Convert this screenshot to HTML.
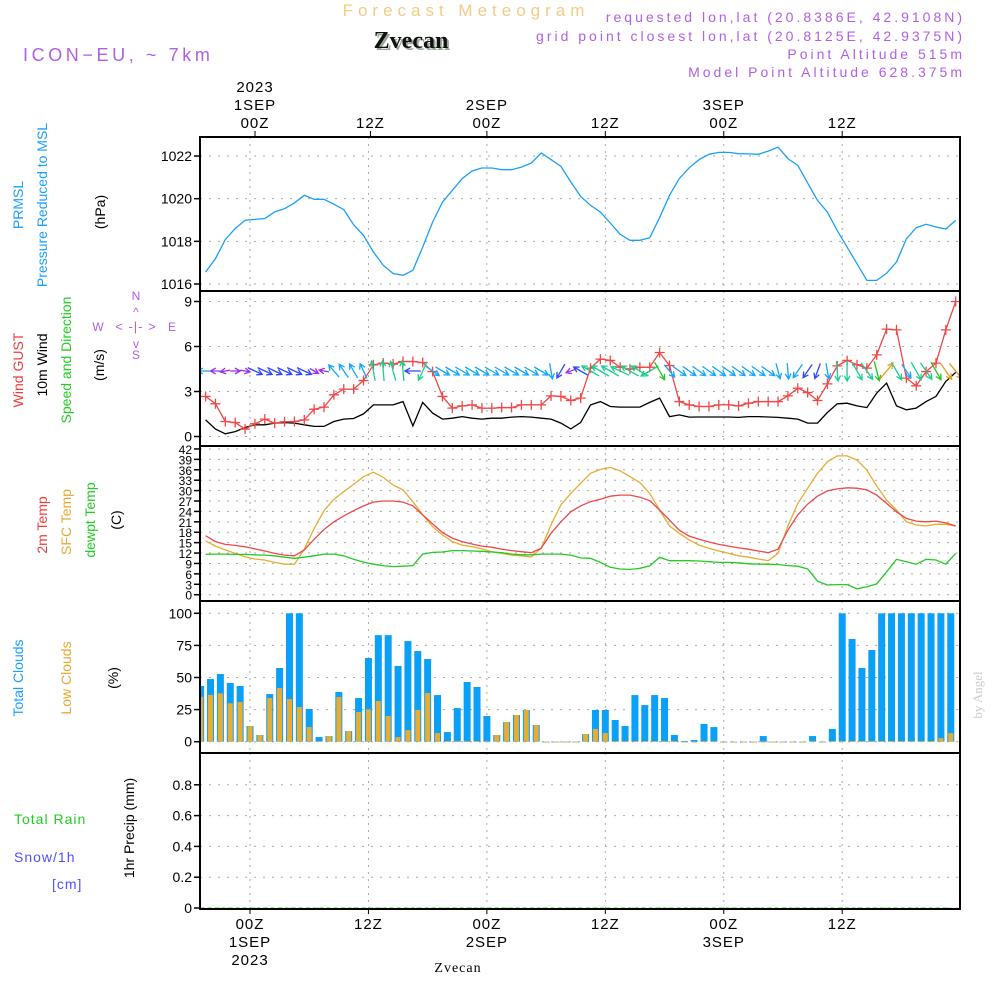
<!DOCTYPE html>
<html><head><meta charset="utf-8"><style>
html,body{margin:0;padding:0;background:#fff;}
svg text{font-family:"Liberation Sans",sans-serif;}
</style></head><body>
<svg id="chart" xmlns="http://www.w3.org/2000/svg" width="1000" height="1000" viewBox="0 0 1000 1000">
<rect x="0" y="0" width="1000" height="1000" fill="#fff"/>
<text x="466" y="16" text-anchor="middle" font-size="17" fill="#f3cc88" letter-spacing="5">Forecast Meteogram</text>
<text x="411" y="48" text-anchor="middle" font-size="24" font-weight="bold" fill="#9aa89a" style="font-family:'Liberation Serif',serif" transform="translate(2,2)">Zvecan</text>
<text x="411" y="48" text-anchor="middle" font-size="24" font-weight="bold" fill="#111" style="font-family:'Liberation Serif',serif">Zvecan</text>
<text x="23" y="61" font-size="18" fill="#b060e8" letter-spacing="3.6">ICON−EU, ~ 7km</text>
<g font-size="14" fill="#b060e8" text-anchor="end" letter-spacing="3">
<text x="965" y="22">requested lon,lat (20.8386E, 42.9108N)</text>
<text x="965" y="41">grid point closest lon,lat (20.8125E, 42.9375N)</text>
<text x="965" y="59">Point Altitude 515m</text>
<text x="965" y="77">Model Point Altitude 628.375m</text>
</g>
<text transform="translate(982,695) rotate(-90)" text-anchor="middle" font-size="13" fill="#ccc" style="font-family:'Liberation Serif',serif">by Angel</text>
<g id="grid"></g>
<g id="plots"></g>
<g id="frames"></g>
<g id="axes"></g>
<g id="labels" font-size="14">
<text transform="translate(23,205) rotate(-90)" text-anchor="middle" fill="#1aa0ff">PRMSL</text>
<text transform="translate(47,205) rotate(-90)" text-anchor="middle" fill="#1aa0ff">Pressure Reduced to MSL</text>
<text transform="translate(105,212) rotate(-90)" text-anchor="middle" fill="#000">(hPa)</text>
<text transform="translate(23,370) rotate(-90)" text-anchor="middle" fill="#f03c3c">Wind GUST</text>
<text transform="translate(47,365) rotate(-90)" text-anchor="middle" fill="#000">10m Wind</text>
<text transform="translate(71,360) rotate(-90)" text-anchor="middle" fill="#22cc22">Speed and Direction</text>
<text transform="translate(104,365) rotate(-90)" text-anchor="middle" fill="#000">(m/s)</text>
<g fill="#b060e8" font-size="12" text-anchor="middle">
<text x="98" y="331">W</text><text x="172" y="331">E</text><text x="136" y="300">N</text><text x="136" y="359">S</text>
<text x="136" y="331" font-size="13" letter-spacing="1">&lt; -|- &gt;</text>
<text x="136" y="316">^</text><text x="136" y="348">v</text>
</g>
<text transform="translate(47,525) rotate(-90)" text-anchor="middle" fill="#f03c3c">2m Temp</text>
<text transform="translate(71,522) rotate(-90)" text-anchor="middle" fill="#e8a830">SFC Temp</text>
<text transform="translate(95,520) rotate(-90)" text-anchor="middle" fill="#22cc22">dewpt Temp</text>
<text transform="translate(121,520) rotate(-90)" text-anchor="middle" fill="#000">(C)</text>
<text transform="translate(23,678) rotate(-90)" text-anchor="middle" fill="#1aa0ff">Total Clouds</text>
<text transform="translate(71,678) rotate(-90)" text-anchor="middle" fill="#e8a830">Low Clouds</text>
<text transform="translate(118,678) rotate(-90)" text-anchor="middle" fill="#000">(%)</text>
<text transform="translate(134,828) rotate(-90)" text-anchor="middle" fill="#000">1hr Precip (mm)</text>
<text x="14" y="824" fill="#22cc22" letter-spacing="1">Total    Rain</text>
<text x="14" y="862" fill="#5050ff" letter-spacing="1">Snow/1h</text>
<text x="52" y="889" fill="#5050ff" letter-spacing="1">[cm]</text>
</g>
<text x="458" y="972" text-anchor="middle" font-size="14" style="font-family:'Liberation Serif',serif" letter-spacing="1">Zvecan</text>
</svg>
<script>
const pressure=[1016.56,1017.19,1018.08,1018.6,1018.99,1019.03,1019.07,1019.38,1019.53,1019.8,1020.16,1019.97,1019.97,1019.74,1019.49,1018.78,1018.28,1017.5,1016.88,1016.49,1016.41,1016.64,1017.73,1018.9,1019.84,1020.39,1020.94,1021.3,1021.44,1021.44,1021.36,1021.36,1021.48,1021.67,1022.14,1021.83,1021.52,1020.78,1020.11,1019.69,1019.37,1018.86,1018.33,1018.05,1018.05,1018.17,1019.11,1020.16,1020.94,1021.45,1021.83,1022.08,1022.17,1022.17,1022.11,1022.1,1022.08,1022.23,1022.42,1021.88,1021.56,1020.73,1019.92,1019.37,1018.5,1017.73,1016.95,1016.17,1016.17,1016.5,1017.03,1018.12,1018.64,1018.8,1018.67,1018.58,1018.98];
const windGust=[2.67,2.18,1.0,0.93,0.49,0.85,1.16,0.89,0.98,1.0,1.11,1.82,1.96,2.78,3.16,3.16,3.73,4.78,4.89,4.83,5.0,5.0,4.93,4.33,2.67,1.89,2.04,2.11,1.89,1.89,1.93,1.93,2.11,2.11,2.11,2.71,2.67,2.4,2.56,4.56,5.16,5.07,4.62,4.49,4.62,4.62,5.6,4.73,2.33,2.11,2.0,2.0,2.11,2.11,2.04,2.22,2.33,2.33,2.33,2.71,3.22,2.93,2.4,3.51,4.71,5.07,4.78,4.56,5.44,7.16,7.11,3.89,3.38,4.33,4.89,7.11,9.0];
const windSpeed=[1.11,0.49,0.18,0.33,0.6,0.78,0.78,0.89,0.93,0.89,0.78,0.67,0.67,1.0,1.16,1.2,1.51,2.11,2.11,2.11,2.33,0.71,2.27,1.56,1.16,1.22,1.33,1.22,1.16,1.22,1.22,1.29,1.33,1.29,1.22,1.16,0.89,0.51,0.93,2.11,2.33,2.0,1.96,1.96,1.96,2.27,2.56,1.33,1.44,1.29,1.3,1.3,1.3,1.3,1.27,1.33,1.33,1.3,1.27,1.22,1.16,0.89,0.89,1.6,2.18,2.22,2.04,1.93,2.89,3.56,2.04,1.78,1.89,2.33,2.67,3.67,4.27];
const windDirTo=[270,270,260,90,100,115,115,115,115,115,115,120,280,320,325,330,335,350,355,345,355,270,205,125,120,120,120,120,120,120,120,120,120,120,120,170,210,250,300,300,300,300,295,300,300,240,150,140,125,125,125,125,125,125,125,125,125,125,165,175,215,215,200,170,175,180,150,145,165,40,150,145,150,145,150,145,140];
const temp2m=[17.0,15.3,14.5,14.2,13.8,13.2,12.6,11.9,11.4,11.2,12.9,16.0,18.8,21.0,22.7,24.2,25.6,26.7,27.0,27.0,26.7,25.6,23.0,20.4,17.9,16.3,15.3,14.6,14.0,13.7,13.1,12.7,12.4,12.1,13.4,17.7,21.0,23.9,25.6,26.8,27.5,28.4,28.7,28.7,28.1,27.1,24.4,21.5,18.6,16.9,16.0,15.2,14.5,14.0,13.5,13.1,12.6,12.1,13.1,18.6,23.0,26.1,28.4,29.9,30.5,30.8,30.7,30.2,28.7,26.3,23.9,22.0,21.2,21.0,21.2,20.7,19.8];
const tempSfc=[15.5,14.0,12.9,11.9,10.9,10.3,10.0,9.3,8.8,8.8,13.1,19.1,24.2,27.5,29.7,31.8,34.0,35.3,33.8,31.6,30.2,26.8,23.0,19.6,17.2,15.3,14.3,13.8,13.2,12.4,11.9,11.4,11.2,10.9,13.4,20.1,25.9,29.2,32.1,35.0,36.1,36.7,35.7,34.0,32.3,29.2,24.4,19.8,17.7,15.8,14.3,13.4,12.6,11.9,11.2,10.8,10.3,9.8,11.9,19.8,26.3,30.7,35.0,38.3,40.0,40.0,38.8,35.9,31.3,27.3,24.4,21.0,20.1,19.8,20.3,20.3,19.8];
const dewPoint=[11.6,11.7,11.7,11.6,11.6,11.5,11.4,11.2,10.8,10.5,10.8,11.2,11.7,11.7,11.2,10.2,9.4,8.8,8.4,8.1,8.2,8.4,11.7,12.2,12.3,12.7,12.7,12.6,12.5,12.3,12.1,11.7,11.5,11.5,11.7,11.7,11.7,11.4,10.6,10.5,9.3,7.9,7.4,7.3,7.6,8.3,10.8,9.8,9.8,9.8,9.7,9.5,9.3,9.3,9.2,8.9,8.8,8.8,8.7,8.4,8.2,7.4,3.9,2.8,2.9,2.9,1.7,2.3,3.1,6.6,10.2,9.5,8.8,10.2,10.0,8.8,11.9];
const totalClouds=[43.4,48.8,52.7,45.7,43.4,12.2,5.2,37.1,57.4,100,100,25.5,3.6,4.4,38.7,8.3,34,65.2,83,83,59,78.4,70.6,64.4,36.3,7.5,26.2,46.5,42.6,20,5.2,15.3,20.8,24.7,13,0,0,0,0,5.9,24.7,24.7,16.9,12.2,36.3,28.5,36.3,34,5.2,0.5,1.3,13.8,11.4,0,0,0,0,4.4,0,0,0,0,4.4,0,9.9,100,80,57.4,71.4,100,100,100,100,100,100,100,100];
const lowClouds=[35,36.4,37.7,29.9,30.9,12.2,5.2,34,41.8,33.2,27,11.4,0.5,4.4,34.8,8.3,23.1,25.2,31.7,20,3.6,9,24.7,37.9,6.7,0.5,0.5,0.5,0.5,0.5,5.2,15.3,20.8,24.7,13,0,0,0,0,5.9,9.9,6.7,0.5,0.5,0.5,0.5,0.5,0.5,0.5,0,0,0.5,0.5,0,0,0,0,0,0,0,0,0,0.5,0,0.5,0.5,0.5,0.5,0.5,0.5,0.5,0.5,0.5,0.5,0.5,2.8,6.7];
const precip=new Array(77).fill(0);
const pressTicks=[1016,1018,1020,1022];
const windTicks=[0,3,6,9];
const tempTicks=[0,3,6,9,12,15,18,21,24,27,30,33,36,39,42];
const cloudTicks=[0,25,50,75,100];
const precipTicks=[0,0.2,0.4,0.6,0.8];
const timeTicks=[0,12,24,36,48,60];
const topTimeLabels=[["2023","1SEP","00Z"],["","","12Z"],["","2SEP","00Z"],["","","12Z"],["","3SEP","00Z"],["","","12Z"]];
const botTimeLabels=[["00Z","1SEP","2023"],["12Z","",""],["00Z","2SEP",""],["12Z","",""],["00Z","3SEP",""],["12Z","",""]];

const NS="http://www.w3.org/2000/svg";
const L=200,R=960;
const xT=t=>250+9.87*t;
const lineT=k=>-4.5+k;
const barT=k=>-5+k;
const yP=v=>284-(v-1016)*21.33;
const yW=v=>436.5-v*15;
const yTe=v=>594.7-v*3.47;
const yC=v=>741.7-v*1.284;
const yR=v=>908-v*154;
const panels=[[137,291],[291,446],[446,601],[601,753],[753,909]];
function el(tag,attrs,parent){const e=document.createElementNS(NS,tag);for(const k in attrs)e.setAttribute(k,attrs[k]);parent.appendChild(e);return e;}
const grid=document.getElementById('grid'),plots=document.getElementById('plots'),frames=document.getElementById('frames'),axes=document.getElementById('axes');

panels.forEach(p=>{timeTicks.forEach(t=>{const g=el('line',{x1:xT(t),x2:xT(t),y1:p[0],y2:p[1],stroke:'#aaa','stroke-dasharray':'2,5'},grid);

});});
function hAxis(ticks,yf,fmt,fs,name){ticks.forEach(v=>{const y=yf(v);
const g=el('line',{x1:L,x2:R,y1:y,y2:y,stroke:'#aaa','stroke-dasharray':'2,7'},grid);


el('line',{x1:L-6,x2:L,y1:y,y2:y,stroke:'#000','stroke-width':1.5},axes);
const t=el('text',{x:L-8,y:y+5,'text-anchor':'end','font-size':fs},axes);


t.textContent=fmt(v);});}
hAxis(pressTicks,yP,v=>v,14,'pressure');
hAxis(windTicks,yW,v=>v,14,'wind');
hAxis(tempTicks,yTe,v=>v,12,'temp');
hAxis(cloudTicks,yC,v=>v,14,'cloud');
hAxis(precipTicks,yR,v=>v===0?'0':v.toFixed(1),14,'precip');

function poly(arr,tf,yf,color,name,w){const pts=arr.map((v,k)=>xT(tf(k)).toFixed(1)+','+yf(v).toFixed(1)).join(' ');
const p=el('polyline',{points:pts,fill:'none',stroke:color,'stroke-width':w||1.3},plots);

return p;}
poly(pressure,lineT,yP,'#1aa0ff','pressure-line');
totalClouds.forEach((v,k)=>{const x=xT(barT(k));if(x<L-4)return;const y=yC(v);
const b=el('rect',{x:Math.max(L,x-3.5),y:y,width:7-(Math.max(L,x-3.5)-(x-3.5)),height:Math.max(0.8,yC(0)-y),fill:'#0aa0f8'},plots);

});
lowClouds.forEach((v,k)=>{const x=xT(barT(k));if(x<L-4)return;const y=yC(v);
const b=el('rect',{x:Math.max(L,x-2.5),y:y,width:5-(Math.max(L,x-2.5)-(x-2.5)),height:Math.max(0.8,yC(0)-y),fill:'#e8ac30'},plots);

});
const pr=poly(precip,barT,yR,'#22cc22','precip-line',1);pr.setAttribute('stroke-dasharray','4,3');
poly(tempSfc,lineT,yTe,'#e8ac30','sfc-temp-line');
poly(temp2m,lineT,yTe,'#f04848','temp-2m-line');
poly(dewPoint,lineT,yTe,'#22cc22','dewpoint-line');
poly(windSpeed,lineT,yW,'#000','wind-speed-line');
poly(windGust,lineT,yW,'#f04848','wind-gust-line');
windGust.forEach((v,k)=>{const x=xT(lineT(k)),y=yW(v);
const m=el('path',{d:`M${x-5},${y}H${x+5}M${x},${y-5}V${y+5}`,stroke:'#f04848','stroke-width':1.3},plots);

});
function wcol(s){return s<0.7?'#9a30e8':s<1.0?'#3048ff':s<1.8?'#12a8ff':s<2.5?'#18d090':s<3.3?'#20c820':'#e8a020';}
windDirTo.forEach((b,k)=>{const s=windSpeed[k];const x=xT(lineT(k)),y=371;const r=b*Math.PI/180;
const len=s<0.7?10:s<1.8?16:20;const dx=Math.sin(r),dy=-Math.cos(r);
const x1=x-dx*len/2,y1=y-dy*len/2,x2=x+dx*len/2,y2=y+dy*len/2;
const a=Math.atan2(dy,dx),h=6;
const hx1=x2-h*Math.cos(a-0.5),hy1=y2-h*Math.sin(a-0.5),hx2=x2-h*Math.cos(a+0.5),hy2=y2-h*Math.sin(a+0.5);
const ar=el('path',{d:`M${x1.toFixed(1)},${y1.toFixed(1)}L${x2.toFixed(1)},${y2.toFixed(1)}M${hx1.toFixed(1)},${hy1.toFixed(1)}L${x2.toFixed(1)},${y2.toFixed(1)}L${hx2.toFixed(1)},${hy2.toFixed(1)}`,stroke:wcol(s),'stroke-width':1.3,fill:'none'},plots);

});
panels.forEach((p,i)=>{const f=el('rect',{x:L,y:p[0],width:R-L,height:p[1]-p[0],fill:'none',stroke:'#000','stroke-width':2},frames);

});
const cp=el('clipPath',{id:'cp'},document.getElementById('chart'));el('rect',{x:L,y:137,width:R-L,height:772},cp);plots.setAttribute('clip-path','url(#cp)');
timeTicks.forEach((t,i)=>{const x=xT(t)+(i<1?5:i<2?2:0);
el('line',{x1:x,x2:x,y1:131,y2:137,stroke:'#000'},axes);
topTimeLabels[i].forEach((s,j)=>{if(!s)return;const tx=el('text',{x:x,y:92+j*18,'text-anchor':'middle','font-size':15,'letter-spacing':1},axes);


tx.textContent=s;});
el('line',{x1:xT(t),x2:xT(t),y1:909,y2:914,stroke:'#000'},axes);
botTimeLabels[i].forEach((s,j)=>{if(!s)return;const tx=el('text',{x:xT(t),y:929+j*18,'text-anchor':'middle','font-size':15,'letter-spacing':1},axes);


tx.textContent=s;});});
</script>
</body></html>
